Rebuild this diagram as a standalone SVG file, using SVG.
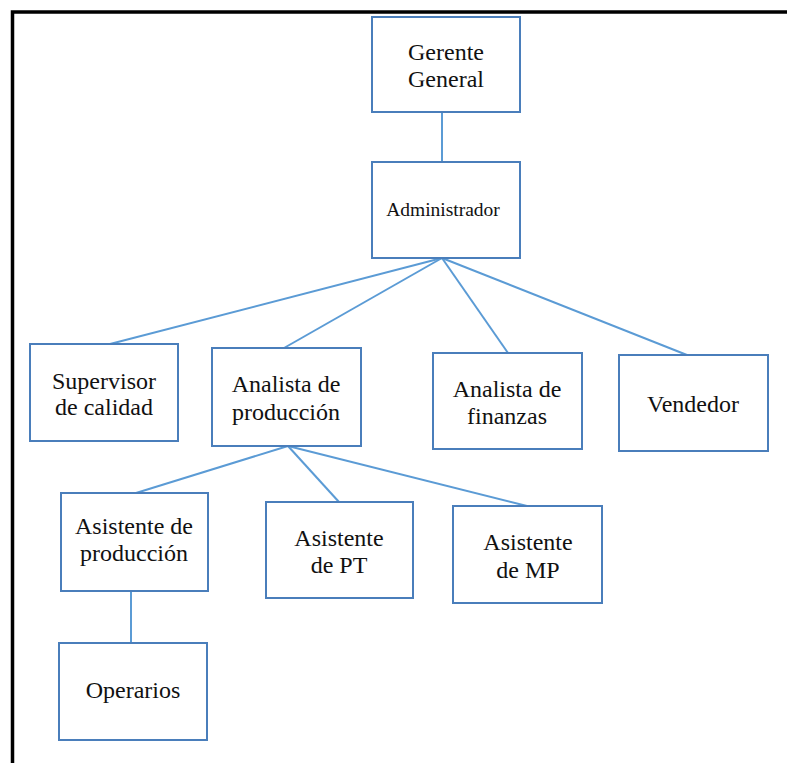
<svg xmlns="http://www.w3.org/2000/svg" width="787" height="763" viewBox="0 0 787 763">
  <style>
    .box { fill: #ffffff; stroke: #4a7ebb; stroke-width: 2; }
    .lbl { font-family: "Liberation Serif", "Times New Roman", serif; font-size: 24px; fill: #111111; text-anchor: middle; }
    .small { font-size: 19.5px; }
    .link { stroke: #5b9bd5; stroke-width: 2; fill: none; }
  </style>
  <rect width="787" height="763" fill="#ffffff"/>
  <!-- page frame -->
  <path d="M12.5 763 V12 H787" fill="none" stroke="#000000" stroke-width="3.5"/>

  <g id="connectors">
    <line class="link" x1="442" y1="112" x2="442" y2="162"/>
    <line class="link" x1="442" y1="258" x2="110" y2="344"/>
    <line class="link" x1="442" y1="258" x2="284" y2="348"/>
    <line class="link" x1="442" y1="258" x2="508" y2="353"/>
    <line class="link" x1="442" y1="258" x2="687" y2="355"/>
    <line class="link" x1="288" y1="446" x2="136" y2="493"/>
    <line class="link" x1="288" y1="446" x2="339" y2="502"/>
    <line class="link" x1="288" y1="446" x2="527" y2="506"/>
    <line class="link" x1="131" y1="591" x2="131" y2="643"/>
  </g>

  <g id="gerente-general">
    <rect class="box" x="372" y="17" width="148" height="95"/>
    <text class="lbl" x="446" y="60">Gerente</text>
    <text class="lbl" x="446" y="87">General</text>
  </g>
  <g id="administrador">
    <rect class="box" x="372" y="162" width="148" height="96"/>
    <text class="lbl small" x="443" y="216">Administrador</text>
  </g>
  <g id="supervisor-calidad">
    <rect class="box" x="30" y="344" width="148" height="97"/>
    <text class="lbl" x="104" y="389">Supervisor</text>
    <text class="lbl" x="104" y="415">de calidad</text>
  </g>
  <g id="analista-produccion">
    <rect class="box" x="212" y="348" width="149" height="98"/>
    <text class="lbl" x="286" y="392">Analista de</text>
    <text class="lbl" x="286" y="420">producción</text>
  </g>
  <g id="analista-finanzas">
    <rect class="box" x="433" y="353" width="149" height="96"/>
    <text class="lbl" x="507" y="397">Analista de</text>
    <text class="lbl" x="507" y="424">finanzas</text>
  </g>
  <g id="vendedor">
    <rect class="box" x="619" y="355" width="149" height="96"/>
    <text class="lbl" x="693" y="412">Vendedor</text>
  </g>
  <g id="asistente-produccion">
    <rect class="box" x="61" y="493" width="147" height="98"/>
    <text class="lbl" x="134" y="534">Asistente de</text>
    <text class="lbl" x="134" y="561">producción</text>
  </g>
  <g id="asistente-pt">
    <rect class="box" x="266" y="502" width="147" height="96"/>
    <text class="lbl" x="339" y="546">Asistente</text>
    <text class="lbl" x="339" y="573">de PT</text>
  </g>
  <g id="asistente-mp">
    <rect class="box" x="453" y="506" width="149" height="97"/>
    <text class="lbl" x="528" y="550">Asistente</text>
    <text class="lbl" x="528" y="578">de MP</text>
  </g>
  <g id="operarios">
    <rect class="box" x="59" y="643" width="148" height="97"/>
    <text class="lbl" x="133" y="698">Operarios</text>
  </g>
</svg>
